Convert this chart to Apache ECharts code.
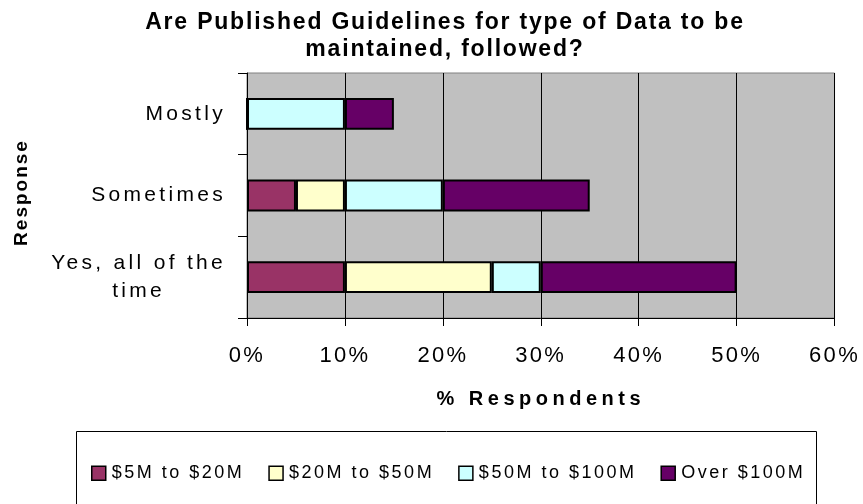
<!DOCTYPE html>
<html>
<head>
<meta charset="utf-8">
<script src="https://cdn.jsdelivr.net/npm/echarts@6/dist/echarts.min.js"></script>
<style>html,body{margin:0;padding:0;background:#fff}#c{width:863px;height:504px}</style>
</head>
<body>
<div id="c"></div>
<script>
// ---- data ----
var categories = ['Yes, all of the\ntime', 'Sometimes', 'Mostly'];
var seriesNames = ['$5M to $20M', '$20M to $50M', '$50M to $100M', 'Over $100M'];
var s5to20 = [10, 5, 0];
var s20to50 = [15, 5, 0];
var s50to100 = [5, 10, 10];
var sOver100 = [20, 15, 5];
var xTickMin = 0, xTickMax = 60, xTickStep = 10;

// ---- styling ----
var colors = ['#993366', '#FFFFCC', '#CCFFFF', '#660066'];
var font = 'Liberation Sans, Arial, sans-serif';
// letter spacing (px) of the reference's wide-set text, keyed by font size (+ 'b' for bold)
var spacingByFont = {'23b': 1.8, '20b': 4.5, '19b': 2, '21': 3.3, '22': 2.3, '18': 2.5};
(function () {
  var proto = CanvasRenderingContext2D.prototype;
  var d = Object.getOwnPropertyDescriptor(proto, 'font');
  if (!d || !('letterSpacing' in proto)) return;
  Object.defineProperty(proto, 'font', {
    configurable: true, enumerable: d.enumerable,
    get: function () { return d.get.call(this); },
    set: function (v) {
      d.set.call(this, v);
      var m = /(\d+(?:\.\d+)?)px/.exec(v);
      var key = m ? String(Math.round(parseFloat(m[1]))) + (/bold|[6-9]00/.test(v) ? 'b' : '') : '';
      this.letterSpacing = (spacingByFont[key] || 0) + 'px';
    }
  });
})();

var values = [s5to20, s20to50, s50to100, sOver100];
var chart = echarts.init(document.getElementById('c'));
chart.setOption({
  animation: false,
  title: {
    text: 'Are Published Guidelines for type of Data to be\nmaintained, followed?',
    left: 440, textAlign: 'center', top: 4,
    textStyle: {fontFamily: font, fontSize: 23, fontWeight: 'bold', color: '#000', lineHeight: 27}
  },
  graphic: [{
    type: 'rect', z: -1, silent: true,
    shape: {x: 76.5, y: 431.5, width: 740, height: 100},
    style: {fill: '#fff', stroke: '#000', lineWidth: 1}
  }],
  legend: {
    left: 86, top: 458,
    itemWidth: 14, itemHeight: 14, itemGap: 24,
    textStyle: {fontFamily: font, fontSize: 18, color: '#000', padding: [0, 0, 0, 1]},
    data: seriesNames.map(function (n) {
      return {name: n, icon: 'rect', itemStyle: {borderColor: '#000', borderWidth: 1.5}};
    })
  },
  grid: {
    left: 247, right: 28, top: 73, bottom: 186,
    show: true, backgroundColor: '#C0C0C0', borderColor: '#808080', borderWidth: 1
  },
  xAxis: {
    type: 'value', min: xTickMin, max: xTickMax, interval: xTickStep,
    name: '% Respondents', nameLocation: 'middle', nameGap: 69,
    nameTextStyle: {fontFamily: font, fontSize: 20, fontWeight: 'bold', color: '#000'},
    axisLine: {show: true, lineStyle: {color: '#000'}},
    axisTick: {show: true, length: 8, lineStyle: {color: '#000'}},
    axisLabel: {fontFamily: font, fontSize: 22, color: '#000', margin: 26, formatter: '{value}%'},
    splitLine: {show: true, lineStyle: {color: '#000', width: 1}}
  },
  yAxis: {
    type: 'category', data: categories,
    name: 'Response', nameLocation: 'middle', nameGap: 215, nameRotate: 90,
    nameTextStyle: {fontFamily: font, fontSize: 19, fontWeight: 'bold', color: '#000', padding: [0, 0, 0, 6]},
    axisLine: {show: true, lineStyle: {color: '#000'}},
    axisTick: {show: true, length: 9, lineStyle: {color: '#000'}},
    axisLabel: {
      margin: 21, align: 'right',
      formatter: function (v) {
        return v.split('\n').map(function (s) { return '{c|' + s + '}'; }).join('\n');
      },
      rich: {c: {fontFamily: font, fontSize: 21, color: '#000', lineHeight: 28, align: 'center'}}
    },
    splitLine: {show: false}
  },
  series: seriesNames.map(function (n, i) {
    return {
      name: n, type: 'bar', stack: 'total', barWidth: '39%',
      data: values[i],
      itemStyle: {color: colors[i], borderColor: '#000', borderWidth: 2}
    };
  })
});
</script>
</body>
</html>
